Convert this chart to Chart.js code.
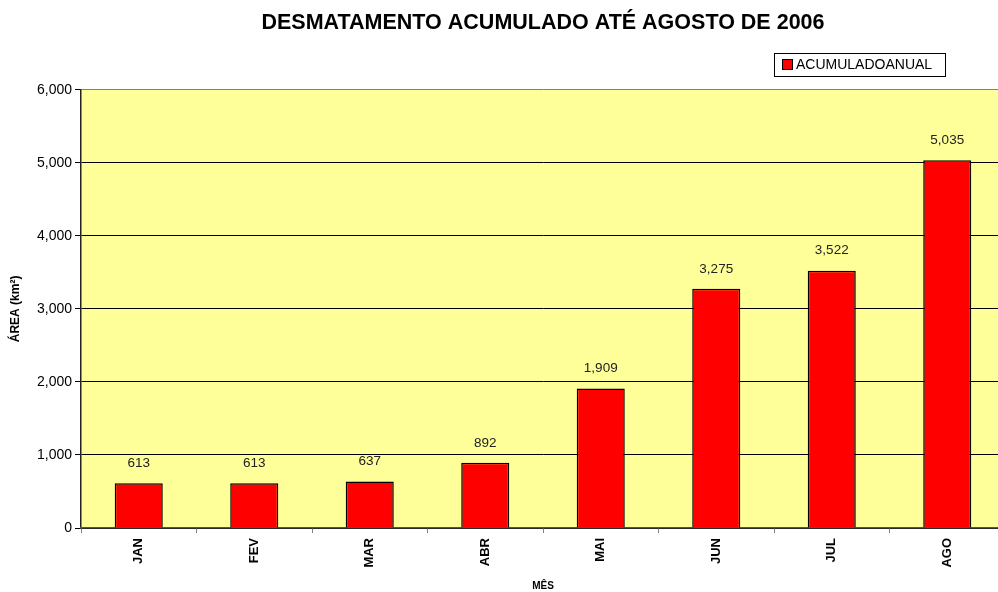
<!DOCTYPE html>
<html>
<head>
<meta charset="utf-8">
<script src="https://cdn.jsdelivr.net/npm/chart.js@4.4.1/dist/chart.umd.min.js"></script>
<style>
html,body{margin:0;padding:0;background:#fff;overflow:hidden;width:998px;height:592px;}
#wrap{width:1010px;height:592px;}
</style>
</head>
<body>
<div id="wrap"><canvas id="c" width="1010" height="592"></canvas></div>
<script>
const chartTitle = "DESMATAMENTO ACUMULADO ATÉ AGOSTO DE 2006";
const categories = ["JAN", "FEV", "MAR", "ABR", "MAI", "JUN", "JUL", "AGO"];
const seriesName = "ACUMULADOANUAL";
const values = [613, 613, 637, 892, 1909, 3275, 3522, 5035];
const yTicks = [0, 1000, 2000, 3000, 4000, 5000, 6000];
const xTitle = "MÊS";
const yTitle = "ÁREA (km²)";

const fmt = v => v.toLocaleString('en-US');
const FONT = '"Liberation Sans", Arial, sans-serif';

const bgPlugin = {
  id: 'plotBg',
  beforeDraw(chart) {
    const {ctx, chartArea: a} = chart;
    ctx.save();
    ctx.fillStyle = '#FFFF99';
    ctx.fillRect(a.left, a.top, a.right - a.left, a.bottom - a.top);
    ctx.restore();
  }
};

const labelPlugin = {
  id: 'valLabels',
  afterDatasetsDraw(chart) {
    const {ctx} = chart;
    const meta = chart.getDatasetMeta(0);
    ctx.save();
    ctx.font = '13.5px ' + FONT;
    ctx.fillStyle = '#222';
    ctx.textAlign = 'center';
    ctx.textBaseline = 'middle';
    meta.data.forEach((bar, i) => {
      ctx.fillText(fmt(values[i]), bar.x, bar.y - 20);
    });
    ctx.restore();
  }
};

const legendPlugin = {
  id: 'boxLegend',
  afterDraw(chart) {
    const {ctx} = chart;
    const ds = chart.data.datasets[0];
    ctx.save();
    ctx.fillStyle = '#fff';
    ctx.strokeStyle = '#000';
    ctx.lineWidth = 1;
    ctx.fillRect(774.5, 53.5, 171, 23);
    ctx.strokeRect(774.5, 53.5, 171, 23);
    ctx.fillStyle = ds.backgroundColor;
    ctx.fillRect(782.5, 59.5, 10, 10);
    ctx.strokeRect(782.5, 59.5, 10, 10);
    ctx.fillStyle = '#000';
    ctx.font = '14px ' + FONT;
    ctx.textBaseline = 'middle';
    ctx.textAlign = 'left';
    ctx.fillText(ds.label, 796, 65);
    ctx.restore();
  }
};

new Chart(document.getElementById('c'), {
  type: 'bar',
  data: {
    labels: categories,
    datasets: [{
      label: seriesName,
      data: values,
      backgroundColor: '#FF0000',
      borderColor: '#000000',
      borderWidth: 1.5,
      barPercentage: 0.416,
      categoryPercentage: 1.0
    }]
  },
  options: {
    responsive: false,
    animation: false,
    devicePixelRatio: 1,
    layout: { padding: { left: 0, right: 5, top: 0, bottom: 0 } },
    plugins: {
      legend: { display: false },
      tooltip: { enabled: false },
      title: {
        display: true,
        text: chartTitle,
        fullSize: false,
        color: '#000',
        font: { family: FONT, size: 21.5, weight: 'bold' },
        padding: { top: 10, bottom: 54 }
      }
    },
    scales: {
      y: {
        min: 0,
        max: 6000,
        afterFit(scale) { scale.width = 81; },
        afterBuildTicks(scale) { scale.ticks = yTicks.map(v => ({value: v})); },
        ticks: {
          color: '#000',
          font: { family: FONT, size: 14 },
          padding: 3,
          callback: v => fmt(v)
        },
        grid: {
          color: ctx => (ctx.tick && ctx.tick.value === 6000) ? '#808080' : '#000',
          lineWidth: 1,
          tickLength: 6,
          tickColor: '#000'
        },
        border: { color: '#222', width: 1.5 },
        title: {
          display: true,
          text: yTitle,
          color: '#000',
          font: { family: FONT, size: 12, weight: 'bold' },
          padding: { top: 8, bottom: 0 }
        }
      },
      x: {
        afterFit(scale) { scale.height = 64; },
        ticks: {
          color: '#000',
          minRotation: 90,
          maxRotation: 90,
          padding: 5,
          font: { family: FONT, size: 13, weight: 'bold' }
        },
        grid: {
          offset: true,
          drawOnChartArea: false,
          drawTicks: true,
          tickLength: 5,
          color: '#808080',
          tickColor: '#808080'
        },
        border: { color: '#555', width: 1.5 },
        title: {
          display: true,
          text: xTitle,
          color: '#000',
          font: { family: FONT, size: 10, weight: 'bold' },
          padding: { top: 0, bottom: 0 }
        }
      }
    }
  },
  plugins: [bgPlugin, labelPlugin, legendPlugin]
});
</script>
</body>
</html>
